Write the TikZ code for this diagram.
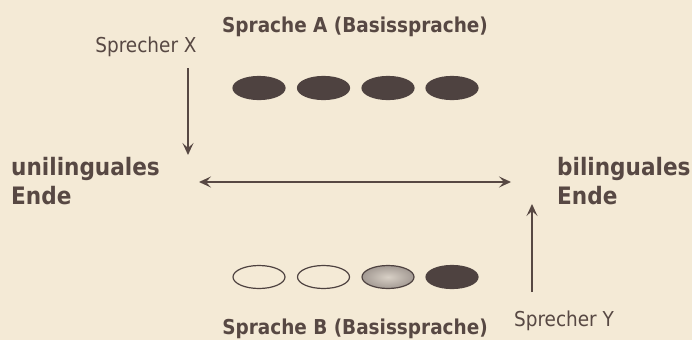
\documentclass[tikz,border=0pt]{standalone}
\usepackage{fontspec}
\setmainfont{DejaVu Sans Condensed}
\usetikzlibrary{arrows.meta,shapes.geometric}
\definecolor{paper}{HTML}{F4EAD6}
\definecolor{ink}{HTML}{574843}
\definecolor{blob}{HTML}{4E4240}
\definecolor{blobmid}{HTML}{A39A93}
\definecolor{bloblight}{HTML}{D8D0C6}
\tikzset{
  label/.style={text=ink, font=\fontsize{20.5}{22}\selectfont, inner sep=0pt},
  title/.style={label, font=\fontsize{20.5}{22}\selectfont\bfseries},
  endlabel/.style={text=ink, font=\fontsize{24}{29}\selectfont\bfseries, inner sep=0pt, align=left},
  dot/.style={ellipse, minimum width=52pt, minimum height=23pt, inner sep=0pt, draw=blob, line width=1.2pt},
  full/.style={dot, fill=blob},
  hollow/.style={dot, fill=paper},
  half/.style={dot, inner color=bloblight, outer color=blobmid},
  connector/.style={draw=ink, line width=1.5pt, -{Stealth[length=12pt,width=11pt,inset=5pt]}},
  twoway/.style={draw=ink, line width=1.5pt, {Stealth[length=12pt,width=11pt,inset=5pt]}-{Stealth[length=12pt,width=11pt,inset=5pt]}}
}
\begin{document}
\begin{tikzpicture}[x=1pt,y=-1pt]
  \fill[paper] (0,0) rectangle (692,340);
  \useasboundingbox (0,0) rectangle (692,340);

  % language A: four full dots
  \node[title, anchor=base] (titleA) at (355,32) {Sprache A (Basissprache)};
  \node[full] (a1) at (259,88) {};
  \node[full] (a2) at (323.5,88) {};
  \node[full] (a3) at (388,88) {};
  \node[full] (a4) at (452,88) {};

  % language B: fading from empty to full
  \node[hollow] (b1) at (259,277) {};
  \node[hollow] (b2) at (323.5,277) {};
  \node[half] (b3) at (388,277) {};
  \node[full] (b4) at (452,277) {};
  \node[title, anchor=base] (titleB) at (355,334) {Sprache B (Basissprache)};

  % the two ends of the scale
  \node[endlabel, anchor=north west] (uni) at (11,157.5) {unilinguales\\Ende};
  \node[endlabel, anchor=north west] (bi) at (557,157.5) {bilinguales\\Ende};
  \coordinate (left) at (199,182);
  \coordinate (right) at (511,182);
  \draw[twoway] (left) -- (right);

  % speakers
  \node[label, anchor=base] (spx) at (146,52) {Sprecher X};
  \coordinate (xtop) at (188,68);
  \coordinate (xbot) at (188,155);
  \draw[connector] (xtop) -- (xbot);

  \node[label, anchor=base] (spy) at (564,326) {Sprecher Y};
  \coordinate (ybot) at (532,292);
  \coordinate (ytop) at (532,204);
  \draw[connector] (ybot) -- (ytop);
\end{tikzpicture}
\end{document}
